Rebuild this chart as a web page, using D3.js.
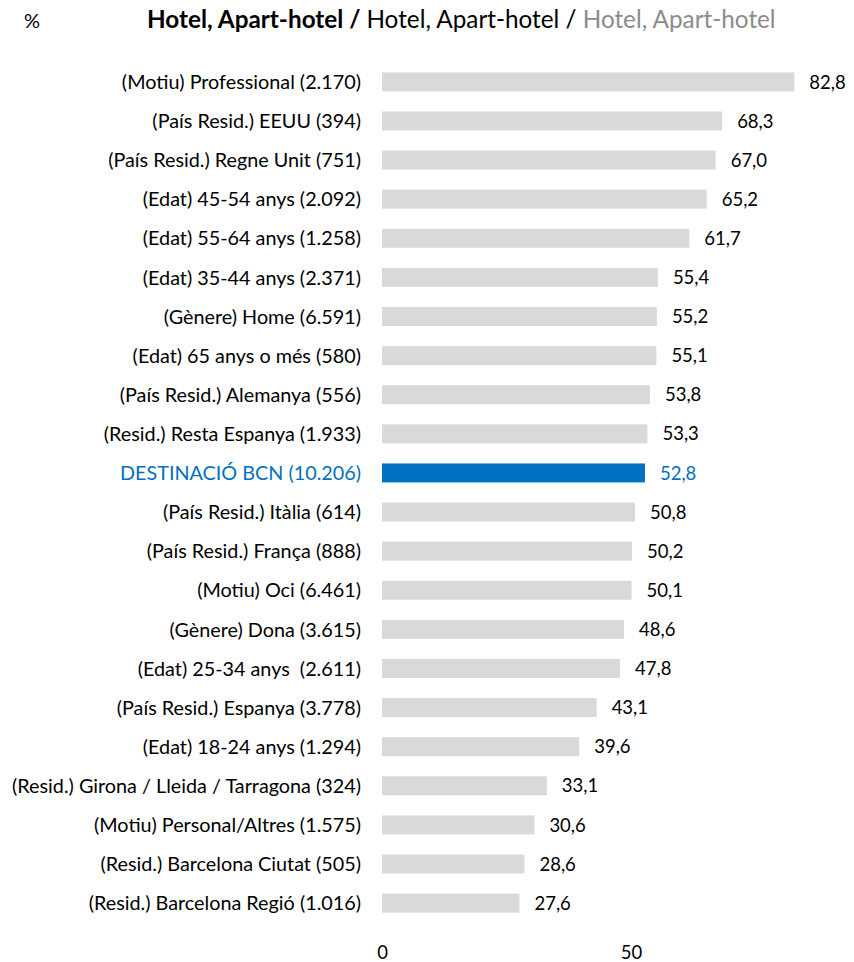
<!DOCTYPE html>
<html>
<head>
<meta charset="utf-8">
<script src="https://cdn.jsdelivr.net/npm/d3@7"></script>
<style>
  body { margin: 0; background: #fff; }
  svg { display: block; font-family: Lato, "Open Sans", sans-serif; }
</style>
</head>
<body>
<svg id="chart"></svg>
<script>
// categories, top to bottom
const categories = [
  "(Motiu) Professional (2.170)",
  "(País Resid.) EEUU (394)",
  "(País Resid.) Regne Unit (751)",
  "(Edat) 45-54 anys (2.092)",
  "(Edat) 55-64 anys (1.258)",
  "(Edat) 35-44 anys (2.371)",
  "(Gènere) Home (6.591)",
  "(Edat) 65 anys o més (580)",
  "(País Resid.) Alemanya (556)",
  "(Resid.) Resta Espanya (1.933)",
  "DESTINACIÓ BCN (10.206)",
  "(País Resid.) Itàlia (614)",
  "(País Resid.) França (888)",
  "(Motiu) Oci (6.461)",
  "(Gènere) Dona (3.615)",
  "(Edat) 25-34 anys  (2.611)",
  "(País Resid.) Espanya (3.778)",
  "(Edat) 18-24 anys (1.294)",
  "(Resid.) Girona / Lleida / Tarragona (324)",
  "(Motiu) Personal/Altres (1.575)",
  "(Resid.) Barcelona Ciutat (505)",
  "(Resid.) Barcelona Regió (1.016)"
];
const values = [82.8, 68.3, 67.0, 65.2, 61.7, 55.4, 55.2, 55.1, 53.8, 53.3, 52.8,
                50.8, 50.2, 50.1, 48.6, 47.8, 43.1, 39.6, 33.1, 30.6, 28.6, 27.6];
const highlight = "DESTINACIÓ BCN (10.206)";
const xTicks = [0, 50];
const titleParts = ["Hotel, Apart-hotel / ", "Hotel, Apart-hotel / ", "Hotel, Apart-hotel"];

const width = 854, height = 962;
const margin = {top: 63, right: 0, bottom: 38, left: 382};

const data = categories.map((c, i) => ({name: c, value: values[i]}));

const svg = d3.select("#chart")
    .attr("width", width)
    .attr("height", height)
    .attr("viewBox", [0, 0, width, height]);

const x = d3.scaleLinear()
    .domain([0, 100])
    .range([margin.left, margin.left + 498]);

const y = d3.scaleBand()
    .domain(categories)
    .range([margin.top, height - margin.bottom - 2])
    .paddingInner(0.515)
    .paddingOuter(0.24);

const blue = "#0070C0", grey = "#D9D9D9";

// title
const title = svg.append("text")
    .attr("x", 147)
    .attr("y", 28)
    .attr("font-size", 24.3)
    .style("white-space", "pre");
title.append("tspan").attr("font-weight", "bold").attr("fill", "#000").text(titleParts[0]);
title.append("tspan").attr("fill", "#000").text(titleParts[1]);
title.append("tspan").attr("fill", "#8c8c8c").text(titleParts[2]);

svg.append("text")
    .attr("x", 24)
    .attr("y", 28)
    .attr("font-size", 20)
    .text("%");

// bars
svg.append("g")
  .selectAll("rect")
  .data(data)
  .join("rect")
    .attr("x", x(0))
    .attr("y", d => y(d.name))
    .attr("width", d => x(d.value) - x(0))
    .attr("height", y.bandwidth())
    .attr("fill", d => d.name === highlight ? blue : grey);

// value labels
svg.append("g")
    .attr("font-size", 18.5)
  .selectAll("text")
  .data(data)
  .join("text")
    .attr("x", d => x(d.value) + 15)
    .attr("y", d => y(d.name) + y.bandwidth() / 2)
    .attr("dy", "0.36em")
    .attr("fill", d => d.name === highlight ? blue : "#000")
    .text(d => d3.format(".1f")(d.value).replace(".", ","));

// category axis
const yAxis = g => g
    .attr("transform", `translate(${margin.left},0)`)
    .call(d3.axisLeft(y).tickSize(0).tickPadding(21))
    .attr("font-family", null)
    .attr("font-size", 19.8)
    .call(g => g.select(".domain").remove())
    .call(g => g.selectAll(".tick text")
        .attr("dy", "0.36em")
        .style("white-space", "pre")
        .attr("fill", d => d === highlight ? blue : "#000"));

svg.append("g").call(yAxis);

// value axis, baseline near bottom edge
const xAxis = g => g
    .attr("transform", `translate(0,${height - 3})`)
    .call(d3.axisBottom(x).tickValues(xTicks).tickSize(0).tickPadding(0))
    .attr("font-family", null)
    .attr("font-size", 18.5)
    .call(g => g.select(".domain").remove())
    .call(g => g.selectAll(".tick text")
        .attr("dy", "0")
        .attr("fill", "#000"));

svg.append("g").call(xAxis);
</script>
</body>
</html>
